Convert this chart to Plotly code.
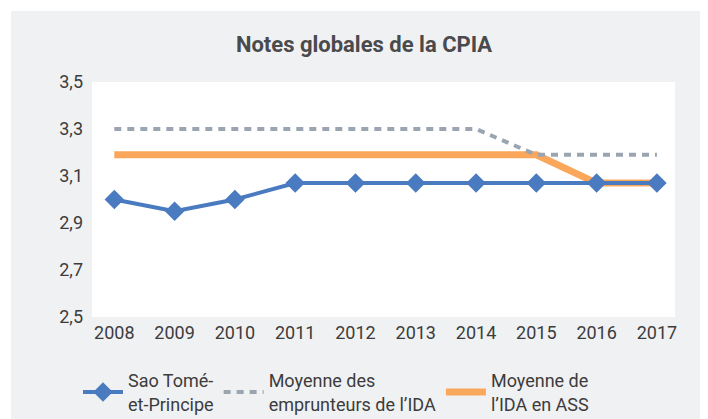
import plotly.graph_objects as go

years = ["2008", "2009", "2010", "2011", "2012", "2013", "2014", "2015", "2016", "2017"]
sao_tome = [3.0, 2.95, 3.0, 3.07, 3.07, 3.07, 3.07, 3.07, 3.07, 3.07]
ida_borrowers = [3.3, 3.3, 3.3, 3.3, 3.3, 3.3, 3.3, 3.19, 3.19, 3.19]
ida_ssa = [3.19, 3.19, 3.19, 3.19, 3.19, 3.19, 3.19, 3.19, 3.07, 3.07]
y_ticks = [2.5, 2.7, 2.9, 3.1, 3.3, 3.5]

FONT = "Roboto, sans-serif"
TXT = "#3c3c3c"

W, H = 700, 411  # page body adds an 8px offset

fig = go.Figure()
fig.add_trace(go.Scatter(
    x=years, y=ida_ssa, mode="lines", name="Moyenne de<br>l’IDA en ASS",
    line=dict(color="#FAA75B", width=7), legendrank=3))
fig.add_trace(go.Scatter(
    x=years, y=ida_borrowers, mode="lines", name="Moyenne des<br>emprunteurs de l’IDA",
    line=dict(color="#9AA5B1", width=4, dash="7px,6px"), legendrank=2))
fig.add_trace(go.Scatter(
    x=years, y=sao_tome, mode="lines+markers", name="Sao Tomé-<br>et-Principe",
    line=dict(color="#4A7ABF", width=4),
    marker=dict(symbol="diamond", size=15, color="#4A7ABF"), legendrank=1))

fig.update_layout(
    width=W, height=H,
    margin=dict(l=84, r=33, t=74, b=102),
    paper_bgcolor="white", plot_bgcolor="white",
    separators=", ",
    font=dict(family=FONT, size=18, color=TXT),
    title=dict(text="<b>Notes globales de la CPIA</b>", x=(364 - 8) / W, xanchor="center",
               y=1 - 36 / H, yanchor="middle",
               font=dict(family=FONT, size=22, color="#4a4a4c")),
    showlegend=True,
    legend=dict(orientation="h", xref="container", yref="container",
                x=(78 - 8) / W, xanchor="left", y=1 - (362 - 8) / H, yanchor="top",
                font=dict(family=FONT, size=18, color=TXT), bgcolor="rgba(0,0,0,0)",
                traceorder="normal", itemwidth=40),
    shapes=[
        dict(type="rect", xref="paper", yref="paper", x0=-0.139, x1=1.1, y0=-0.6, y1=1.302,
             fillcolor="#F0F1F3", line=dict(width=0), layer="below"),
        dict(type="rect", xref="paper", yref="paper", x0=0, x1=1, y0=0, y1=1,
             fillcolor="white", line=dict(width=0), layer="below"),
    ],
)
fig.update_xaxes(type="category", range=[-0.37, 9.3], showgrid=False, showline=False,
                 zeroline=False, ticks="", ticklabelstandoff=3,
                 tickfont=dict(family=FONT, size=18, color=TXT))
fig.update_yaxes(range=[2.5, 3.5], tickvals=y_ticks, tickformat=".1f", showgrid=False,
                 showline=False, zeroline=False, ticks="", ticklabelstandoff=8,
                 tickfont=dict(family=FONT, size=18, color=TXT))

fig.write_html("out.html")
